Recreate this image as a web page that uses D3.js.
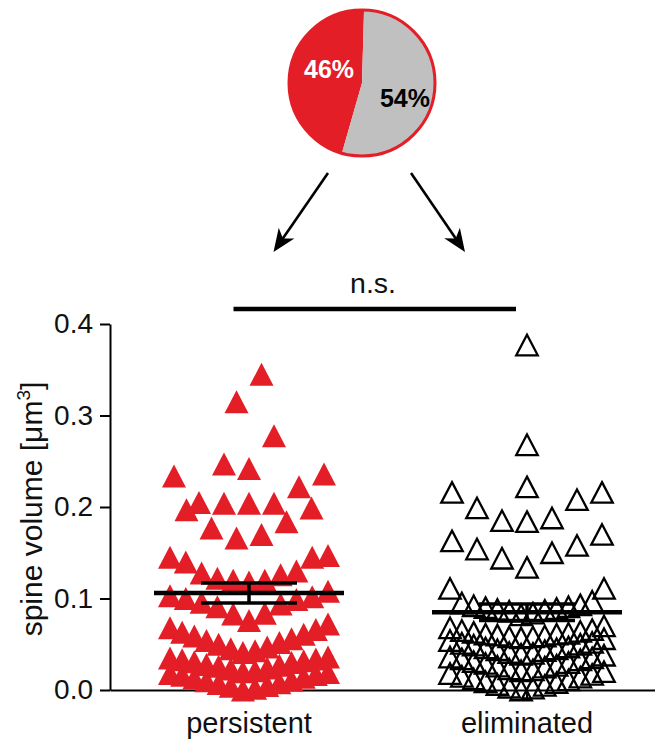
<!DOCTYPE html>
<html>
<head>
<meta charset="utf-8">
<script src="https://cdn.jsdelivr.net/npm/d3@7/dist/d3.min.js"></script>
<style>
  body { margin: 0; background: #fff; }
  svg { display: block; }
  text { font-family: "Liberation Sans", Arial, Helvetica, sans-serif; }
</style>
</head>
<body>
<svg id="chart" width="655" height="740"></svg>
<script>
// ---------------- data ----------------
const categories = ["persistent", "eliminated"];

const persistentValues = [
  0.000, 0.002, 0.004, 0.005, 0.007, 0.008, 0.010, 0.011, 0.013, 0.014, 0.016, 0.017, 0.018, 0.019,
  0.020, 0.021, 0.023, 0.024, 0.026, 0.027, 0.028, 0.030, 0.031, 0.032, 0.033, 0.034, 0.035, 0.036,
  0.041, 0.043, 0.045, 0.047, 0.050, 0.052, 0.054, 0.056, 0.059, 0.061, 0.063, 0.066, 0.068, 0.072,
  0.076, 0.083, 0.084, 0.091, 0.094, 0.096, 0.099, 0.100, 0.102, 0.103, 0.108,
  0.118, 0.120, 0.120, 0.122, 0.126, 0.128, 0.130, 0.140, 0.145, 0.145, 0.147,
  0.166, 0.170, 0.177, 0.184, 0.197, 0.199,
  0.204, 0.204, 0.204, 0.205, 0.222, 0.234, 0.236,
  0.242, 0.247, 0.278,
  0.315, 0.345
];

const eliminatedValues = [
  0.000, 0.002, 0.003, 0.005, 0.006, 0.008, 0.009, 0.011, 0.012, 0.014, 0.015, 0.017, 0.018, 0.020,
  0.021, 0.022, 0.023, 0.025, 0.026, 0.027, 0.029, 0.030, 0.031, 0.033, 0.034, 0.035, 0.036, 0.038,
  0.039, 0.040, 0.041, 0.043, 0.044, 0.045, 0.046, 0.047, 0.049, 0.050, 0.051, 0.052, 0.054, 0.056,
  0.057, 0.058, 0.058, 0.059, 0.060, 0.061, 0.061, 0.062, 0.063, 0.064, 0.065, 0.066, 0.068, 0.070,
  0.082, 0.084, 0.086, 0.087, 0.088, 0.089, 0.090, 0.091, 0.092, 0.093, 0.095, 0.097, 0.111, 0.111,
  0.134, 0.144, 0.150, 0.154, 0.158, 0.163, 0.170,
  0.184, 0.185, 0.188, 0.199, 0.208, 0.216, 0.216,
  0.222, 0.268, 0.377
];

const meanValues = [0.106, 0.085];
const semValues = [0.011, 0.009];

const yTicks = [0.0, 0.1, 0.2, 0.3, 0.4];

const pieCategories = ["persistent", "eliminated"];
const pieValues = [46, 54];
const pieLabels = ["46%", "54%"];

const yLabelMain = "spine volume [μm";
const yLabelSup = "3";
const yLabelEnd = "]";
const sigLabel = "n.s.";

// ---------------- setup ----------------
const RED = "#e31e26";
const GREY = "#c0c0c0";
const svg = d3.select("#chart");

const x = d3.scaleBand().domain(categories).range([110, 666]);
const y = d3.scaleLinear().domain([0, 0.4]).range([690, 324]);
const cx = c => x(c) + x.bandwidth() / 2;

// ---------------- pie ----------------
const pieCenter = [362, 83];
const pieR = 73;
const a0 = 196 * Math.PI / 180;
const pie = d3.pie().sort(null).startAngle(a0).endAngle(a0 + 2 * Math.PI);
const arc = d3.arc().innerRadius(0).outerRadius(pieR);
const pieG = svg.append("g").attr("transform", `translate(${pieCenter})`);
const pieData = pie(pieValues);
pieG.selectAll("path.slice").data(pieData).join("path")
  .attr("class", "slice")
  .attr("d", arc)
  .attr("fill", (d, i) => i === 0 ? RED : GREY);
pieG.append("circle").attr("r", pieR).attr("fill", "none")
  .attr("stroke", RED).attr("stroke-width", 3);
const pieLabelOffsets = [[-33, -5], [43, 24]];
pieG.selectAll("text").data(pieData).join("text")
  .attr("x", (d, i) => pieLabelOffsets[i][0])
  .attr("y", (d, i) => pieLabelOffsets[i][1])
  .attr("text-anchor", "middle")
  .attr("font-size", 25)
  .attr("font-weight", "bold")
  .attr("fill", (d, i) => i === 0 ? "#fff" : "#000")
  .text((d, i) => pieLabels[i]);

// ---------------- arrows ----------------
const arrows = [
  { from: [328, 173], to: [cx("persistent") + 24.5, 252] },
  { from: [411, 173], to: [cx("eliminated") - 62, 252] }
];
arrows.forEach(a => {
  const dx = a.to[0] - a.from[0], dy = a.to[1] - a.from[1];
  const len = Math.hypot(dx, dy);
  const ux = dx / len, uy = dy / len;
  svg.append("line")
    .attr("x1", a.from[0]).attr("y1", a.from[1])
    .attr("x2", a.to[0] - ux * 14).attr("y2", a.to[1] - uy * 14)
    .attr("stroke", "#000").attr("stroke-width", 2.6);
  const ang = Math.atan2(dy, dx) * 180 / Math.PI;
  svg.append("path")
    .attr("d", "M0,0L-23,-9.5L-16.5,0L-23,9.5Z")
    .attr("transform", `translate(${a.to}) rotate(${ang})`)
    .attr("fill", "#000");
});

// ---------------- significance bar ----------------
const sigY = 309;
svg.append("line")
  .attr("x1", cx("persistent") - 15.5).attr("x2", cx("eliminated") - 11)
  .attr("y1", sigY).attr("y2", sigY)
  .attr("stroke", "#000").attr("stroke-width", 4.5);
svg.append("text")
  .attr("x", (cx("persistent") + cx("eliminated")) / 2 - 15)
  .attr("y", 293)
  .attr("text-anchor", "middle")
  .attr("font-size", 28.5)
  .attr("fill", "#111")
  .text(sigLabel);

// ---------------- axes ----------------
const yAxisG = svg.append("g").attr("transform", "translate(110,0)")
  .call(d3.axisLeft(y).tickValues(yTicks).tickFormat(d3.format(".1f"))
    .tickSize(10).tickSizeOuter(0).tickPadding(7));
yAxisG.select(".domain").attr("stroke", "#000").attr("stroke-width", 2);
yAxisG.selectAll(".tick line").attr("stroke", "#000").attr("stroke-width", 2);
yAxisG.selectAll(".tick text").attr("font-size", 28).attr("fill", "#111")
  .attr("font-family", "'Liberation Sans', Arial, sans-serif");

const xAxisG = svg.append("g").attr("transform", `translate(0,${y(0)})`)
  .call(d3.axisBottom(x).tickSize(10).tickSizeOuter(0).tickPadding(12));
xAxisG.select(".domain").attr("stroke", "#000").attr("stroke-width", 2);
xAxisG.selectAll(".tick line").attr("stroke", "#000").attr("stroke-width", 2);
xAxisG.selectAll(".tick text").attr("font-size", 29).attr("fill", "#111")
  .attr("font-family", "'Liberation Sans', Arial, sans-serif");

// y label
const yl = svg.append("text")
  .attr("transform", "translate(42,509) rotate(-90)")
  .attr("text-anchor", "middle")
  .attr("font-size", 30)
  .attr("fill", "#111");
yl.append("tspan").text(yLabelMain);
yl.append("tspan").attr("font-size", 19).attr("dy", -12).text(yLabelSup);
yl.append("tspan").attr("dy", 12).text(yLabelEnd);

// ---------------- scatter layout (column scatter rows) ----------------
function layoutRows(values, rowSpan, maxPerRow, maxWidth, maxStep) {
  const sorted = values.slice().sort(d3.ascending);
  const rows = [];
  let cur = null;
  for (const v of sorted) {
    if (!cur || v - cur[0] >= rowSpan - 1e-9 || cur.length >= maxPerRow) {
      cur = [];
      rows.push(cur);
    }
    cur.push(v);
  }
  const out = [];
  rows.forEach(row => {
    const n = row.length;
    const step = n > 1 ? Math.min(maxStep, maxWidth / (n - 1)) : 0;
    row.forEach((v, i) => {
      let k;
      if (n % 2 === 1) {
        k = i === 0 ? 0 : (i % 2 === 1 ? -Math.ceil(i / 2) : Math.ceil(i / 2));
      } else {
        const m = Math.floor(i / 2) + 0.5;
        k = i % 2 === 0 ? -m : m;
      }
      out.push({ v, dx: k * step });
    });
  });
  return out;
}

const tri = (w, h) => `M0,${-h / 2}L${w / 2},${h / 2}L${-w / 2},${h / 2}Z`;

const series = [
  { cat: "persistent", values: persistentValues, fill: RED, stroke: "none", sw: 0, d: tri(24, 23), width: 158 },
  { cat: "eliminated", values: eliminatedValues, fill: "none", stroke: "#000", sw: 2.3, d: tri(21.5, 20.5), width: 154 }
];

series.forEach(s => {
  const pts = layoutRows(s.values, 0.037, 14, s.width, 25);
  svg.append("g").selectAll("path").data(pts).join("path")
    .attr("d", s.d)
    .attr("transform", p => `translate(${cx(s.cat) + p.dx},${y(p.v)})`)
    .attr("fill", s.fill)
    .attr("stroke", s.stroke)
    .attr("stroke-width", s.sw)
    .attr("stroke-linejoin", "miter");
});

// ---------------- mean ± SEM ----------------
categories.forEach((c, i) => {
  const m = meanValues[i], e = semValues[i];
  const g = svg.append("g").attr("stroke", "#000");
  g.append("line").attr("x1", cx(c) - 95).attr("x2", cx(c) + 95)
    .attr("y1", y(m)).attr("y2", y(m)).attr("stroke-width", 4.5);
  g.append("line").attr("x1", cx(c)).attr("x2", cx(c))
    .attr("y1", y(m + e)).attr("y2", y(m - e)).attr("stroke-width", 3.5);
  [m + e, m - e].forEach(v => {
    g.append("line").attr("x1", cx(c) - 48).attr("x2", cx(c) + 48)
      .attr("y1", y(v)).attr("y2", y(v)).attr("stroke-width", 3.5);
  });
});
</script>
</body>
</html>
